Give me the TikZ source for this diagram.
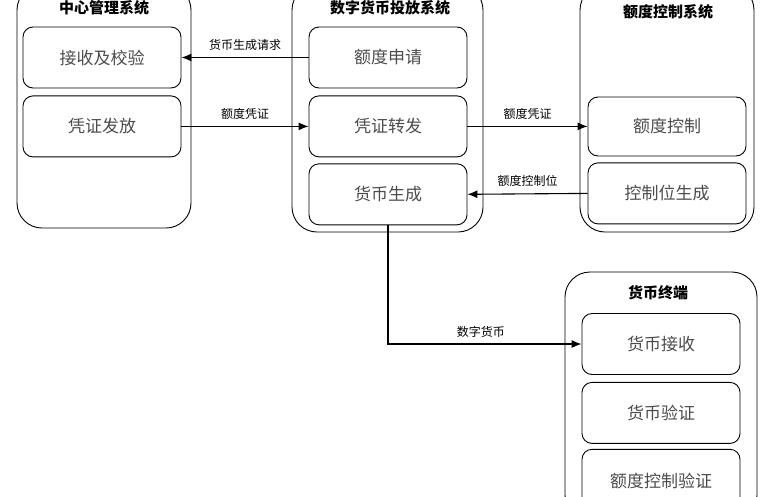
\documentclass[tikz,border=0pt]{standalone}
\usepackage{fontspec}
\setmainfont{Noto Sans CJK SC}
\usetikzlibrary{arrows.meta,positioning}

\begin{document}
\begin{tikzpicture}[x=1pt,y=-1pt,>={Latex[length=10pt,width=8pt]},
        sys/.style={draw,line width=0.9pt,rounded corners=25pt},
        title/.style={font=\fontsize{15}{18}\selectfont\bfseries},
        unit/.style={draw,line width=0.9pt,rounded corners=10pt,minimum width=158pt,
            minimum height=61pt,text=black!70,font=\fontsize{17}{20}\selectfont},
        lbl/.style={above=3pt,font=\fontsize{12}{14}\selectfont},
        flow/.style={->,line width=1.1pt}]

        \useasboundingbox (0,0) rectangle (765,496);
        \clip (0,0) rectangle (765,496);

        % systems
        \node[sys,minimum width=174pt,minimum height=243pt] (zx) at (104,106.5) {};
        \node[sys,minimum width=191pt,minimum height=247pt] (tf) at (387.5,108.5) {};
        \node[sys,minimum width=174pt,minimum height=247pt] (ek) at (667,108.5) {};
        \node[sys,minimum width=192pt,minimum height=248pt] (zd) at (661,396) {};

        \node[title] (zx_t) at (104,8) {中心管理系统};
        \node[title] (tf_t) at (390,8) {数字货币投放系统};
        \node[title] (ek_t) at (668,12) {额度控制系统};
        \node[title] (zd_t) at (658,293) {货币终端};

        % units
        \node[unit] (jsjy) at (102,57.5) {接收及校验};
        \node[unit] (pzff) [below=7pt of jsjy] {凭证发放};

        \node[unit] (edsq) at (388,57.5) {额度申请};
        \node[unit] (pzzf) [below=7pt of edsq] {凭证转发};
        \node[unit] (hbsc) [below=6pt of pzzf] {货币生成};

        \node[unit,minimum height=59pt] (edkz) at (667,126.5) {额度控制};
        \node[unit] (kzwsc) [below=6pt of edkz] {控制位生成};

        \node[unit] (hbjs) at (661,344) {货币接收};
        \node[unit] (hbyz) [below=7pt of hbjs] {货币验证};
        \node[unit,minimum height=64pt] (edkzyz) [below=5pt of hbyz] {额度控制验证};

        % flows
        \draw[flow] (edsq.west) -- node[lbl] {货币生成请求} (jsjy.east);
        \draw[flow] (pzff.east) -- node[lbl] {额度凭证} (pzzf.west);
        \draw[flow] (pzzf.east) -- node[lbl] {额度凭证} (pzzf.east -| edkz.west);
        \draw[flow] (kzwsc.west) -- node[lbl] {额度控制位} (hbsc.east);
        \draw[flow] (hbsc.south) |- node[lbl,pos=0.74] {数字货币} (hbjs.west);

    \end{tikzpicture}
\end{document}
